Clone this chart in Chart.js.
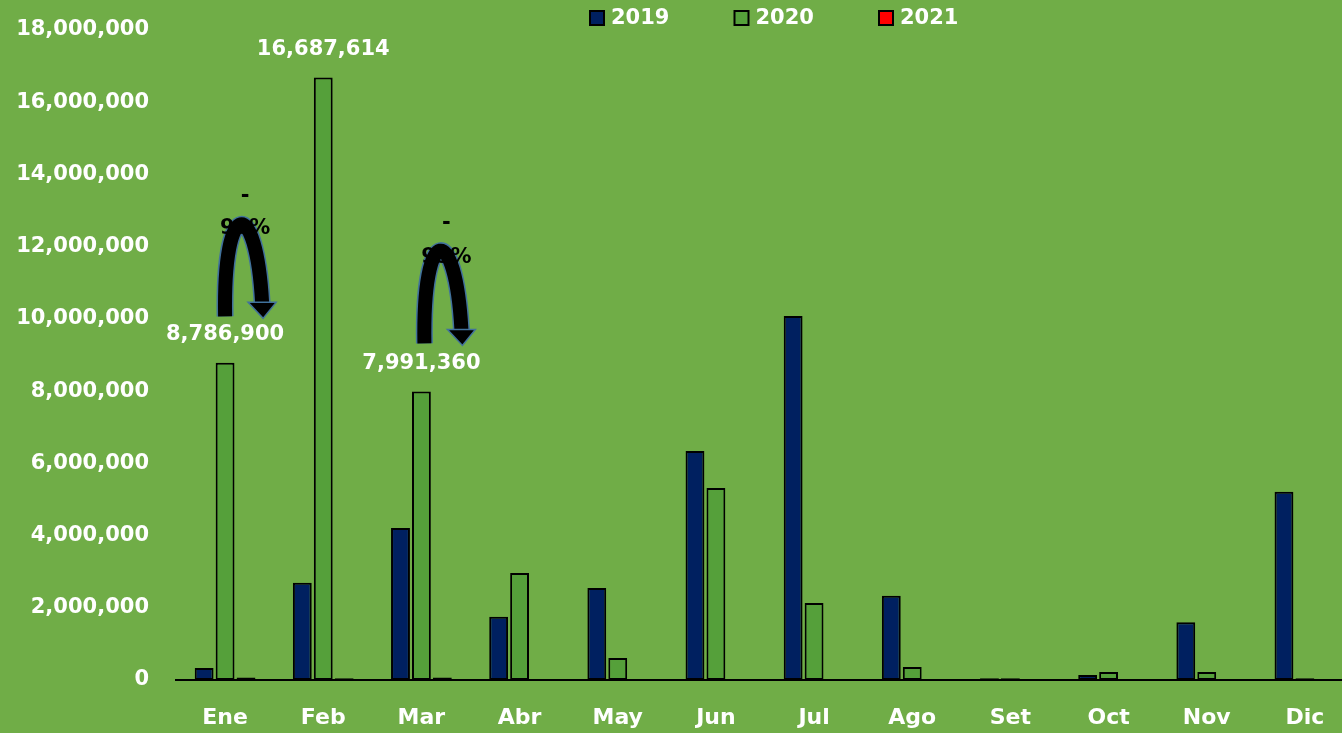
<!DOCTYPE html>
<html>
<head>
<meta charset="utf-8">
<script src="https://cdn.jsdelivr.net/npm/chart.js@4"></script>
<style>
  html, body { margin: 0; padding: 0; background: #70AD47; overflow: hidden; }
  canvas { display: block; }
</style>
</head>
<body>
<canvas id="ventasChart" width="1360" height="733"></canvas>
<script>
// datos del grafico
const meses = ['Ene', 'Feb', 'Mar', 'Abr', 'May', 'Jun', 'Jul', 'Ago', 'Set', 'Oct', 'Nov', 'Dic'];
const valores2019 = [330000, 2690000, 4210000, 1750000, 2550000, 6340000, 10080000, 2330000, 50000, 140000, 1600000, 5210000];
const valores2020 = [8786900, 16687614, 7991360, 2960000, 610000, 5320000, 2130000, 360000, 50000, 220000, 220000, 50000];
const valores2021 = [70000, 50000, 70000, 0, 0, 0, 0, 0, 0, 0, 0, 0];
const mesesConEtiqueta = [0, 1, 2];
const yTicks = [0, 2000000, 4000000, 6000000, 8000000, 10000000, 12000000, 14000000, 16000000, 18000000];

const fuente = 'DejaVu Sans';
const fmt = v => v.toLocaleString('en-US');

// flechas de variacion (-99%)
const flechas = [
    { mes: 0, base: 10070000, tope: 12900000, dx: 0, punta: 37, guion: 13400000, pct: 12490000, tx: 20, texto: '99%' },
    { mes: 2, base: 9320000, tope: 12180000, dx: 3, punta: 40, guion: 12630000, pct: 11690000, tx: 25, texto: '99%' }
];

// plugin para etiquetas, flechas y leyenda
const extras = {
    id: 'extras',
    afterDatasetsDraw(chart) {
        const ctx = chart.ctx;
        const x = chart.scales.x;
        const y = chart.scales.y;
        ctx.save();

        // etiquetas de datos 2020
        const meta = chart.getDatasetMeta(1);
        ctx.fillStyle = '#ffffff';
        ctx.font = 'bold 21px ' + fuente;
        ctx.textAlign = 'center';
        ctx.textBaseline = 'middle';
        mesesConEtiqueta.forEach(i => {
            const bar = meta.data[i];
            ctx.fillText(fmt(valores2020[i]), bar.x, bar.y - 28);
        });

        // flechas
        flechas.forEach(f => {
            const cx = x.getPixelForValue(f.mes);
            const L = cx + f.dx;
            const R = cx + f.punta;
            const yb = y.getPixelForValue(f.base);
            const yt = y.getPixelForValue(f.tope);
            const headBase = yb - 14;
            const path = () => {
                ctx.beginPath();
                ctx.moveTo(L, yb);
                ctx.bezierCurveTo(L - 2, yt - 18, R - 6, yt - 18, R, headBase);
            };
            ctx.lineCap = 'butt';
            path();
            ctx.strokeStyle = '#41719C';
            ctx.lineWidth = 17;
            ctx.stroke();
            path();
            ctx.strokeStyle = '#000000';
            ctx.lineWidth = 14;
            ctx.stroke();
            ctx.beginPath();
            ctx.moveTo(R - 14, headBase);
            ctx.lineTo(R + 14, headBase);
            ctx.lineTo(R + 1, yb + 2);
            ctx.closePath();
            ctx.fillStyle = '#000000';
            ctx.fill();
            ctx.strokeStyle = '#41719C';
            ctx.lineWidth = 1.5;
            ctx.stroke();

            ctx.fillStyle = '#000000';
            ctx.font = 'bold 21px ' + fuente;
            ctx.textAlign = 'center';
            ctx.fillText('-', cx + f.tx, y.getPixelForValue(f.guion));
            ctx.fillText(f.texto, cx + f.tx, y.getPixelForValue(f.pct));
        });

        // leyenda
        const items = chart.data.datasets;
        ctx.font = 'bold 21px ' + fuente;
        ctx.textAlign = 'left';
        items.forEach((ds, i) => {
            const bx = 589 + i * 144.5;
            ctx.fillStyle = ds.backgroundColor;
            ctx.fillRect(bx + 1, 11, 14, 14);
            ctx.strokeStyle = '#000000';
            ctx.lineWidth = 2;
            ctx.strokeRect(bx + 1, 11, 14, 14);
            ctx.fillStyle = '#ffffff';
            ctx.fillText(ds.label, bx + 22, 19);
        });
        ctx.restore();
    }
};

const ctx = document.getElementById('ventasChart').getContext('2d');
const chart = new Chart(ctx, {
    type: 'bar',
    data: {
        labels: meses,
        datasets: [
            { label: '2019', data: valores2019, backgroundColor: '#002060' },
            { label: '2020', data: valores2020, backgroundColor: '#55A03A' },
            { label: '2021', data: valores2021, backgroundColor: '#FF0000' }
        ].map(d => Object.assign(d, {
            borderColor: '#000000',
            borderWidth: 2,
            borderSkipped: false,
            categoryPercentage: 0.64,
            barPercentage: 0.9
        }))
    },
    options: {
        responsive: false,
        animation: false,
        layout: { padding: { top: 30, right: 6, left: 0, bottom: 0 } },
        plugins: {
            legend: { display: false },
            tooltip: { enabled: false }
        },
        scales: {
            x: {
                grid: { display: false, drawTicks: false },
                border: { display: true, color: '#000000', width: 2 },
                ticks: {
                    color: '#ffffff',
                    font: { family: fuente, size: 22, weight: 'bold' },
                    padding: 25
                },
                afterFit(scale) { scale.height = 53; }
            },
            y: {
                min: 0,
                max: 18000000,
                grid: { display: false, drawTicks: false },
                border: { display: false },
                afterBuildTicks(scale) { scale.ticks = yTicks.map(v => ({ value: v })); },
                ticks: {
                    color: '#ffffff',
                    font: { family: fuente, size: 21, weight: 'bold' },
                    padding: 27,
                    callback: v => fmt(v)
                },
                afterFit(scale) {
                    scale.width = 176;
                    scale.paddingTop = 0;
                    scale.paddingBottom = 0;
                }
            }
        }
    },
    plugins: [extras]
});
</script>
</body>
</html>
